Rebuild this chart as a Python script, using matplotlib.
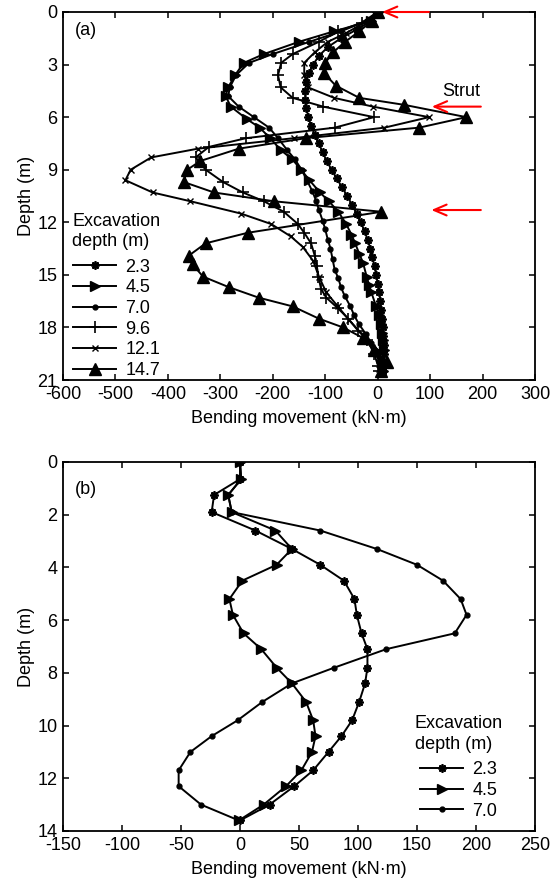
import matplotlib
matplotlib.use("Agg")
import matplotlib.pyplot as plt

plt.rcParams["font.family"] = ["Liberation Sans", "DejaVu Sans"]
plt.rcParams["font.size"] = 13
plt.rcParams["axes.unicode_minus"] = False

# ---- panel (a): excavation stages ----
labels_a = ["2.3", "4.5", "7.0", "9.6", "12.1", "14.7"]

d_23 = [0, 0.5, 1.0, 1.5, 2.0, 2.5, 3.0, 3.5, 4.0, 4.5, 5.0, 5.5, 6.0, 6.5, 7.0, 7.5, 8.0,
        8.5, 9.0, 9.5, 10.0, 10.5, 11.0, 11.5, 12.0, 12.5, 13.0, 13.5, 14.0, 14.5, 15.0,
        15.5, 16.0, 16.5, 17.0, 17.5, 18.0, 18.5, 19.0, 19.5, 20.0, 20.5]
m_23 = [0, -12, -40, -70, -95, -112, -123, -131, -136, -138, -138, -136, -132, -127, -120,
        -112, -105, -97, -88, -78, -68, -58, -49, -40, -32, -25, -19, -14, -10, -6, -3, 0,
        3, 5, 7, 9, 10, 11, 12, 12, 11, 10]

d_45 = [0, 0.5, 1.1, 1.7, 2.4, 2.9, 3.6, 4.3, 4.8, 5.4, 6.1, 6.6, 7.2, 7.9, 8.4, 9.0, 9.6,
        10.3, 10.8, 11.4, 12.1, 12.7, 13.2, 13.8, 14.3, 15.1, 15.6, 16.0, 16.8, 17.3, 17.8,
        18.3, 18.7, 19.3, 19.9, 20.5]
m_45 = [0, -12, -83, -150, -217, -255, -272, -285, -290, -280, -250, -225, -205, -184, -163,
        -146, -130, -110, -93, -75, -60, -50, -43, -35, -28, -21, -16, -12, -3, 2, 6, 9, 11,
        12, 13, 10]

d_70 = [0, 0.5, 1.1, 1.7, 2.4, 2.9, 3.6, 4.3, 4.8, 5.4, 6.0, 6.6, 7.2, 7.9, 8.4, 9.0, 9.6,
        10.2, 10.8, 11.3, 11.9, 12.4, 13.0, 13.5, 14.1, 14.7, 15.2, 15.7, 16.2, 16.8, 17.3,
        17.8, 18.4, 18.9, 19.5, 20.0, 20.5]
m_70 = [0, -20, -70, -130, -200, -245, -270, -282, -285, -265, -236, -207, -190, -172, -158,
        -145, -135, -125, -117, -112, -105, -100, -95, -90, -86, -82, -75, -70, -63, -52, -45,
        -36, -22, -12, -3, 3, 7]

d_96 = [0, 0.6, 1.1, 1.7, 2.4, 2.9, 3.6, 4.3, 4.9, 5.4, 6.0, 6.6, 7.2, 7.7, 8.3, 9.0, 9.7,
        10.3, 10.8, 11.4, 12.1, 12.6, 13.2, 13.9, 14.5, 15.1, 15.8, 16.3, 16.9, 17.5, 18.2,
        18.7, 19.5, 20.2, 20.5]
m_96 = [0, -30, -75, -112, -162, -184, -190, -185, -162, -104, -7, -82, -251, -322, -347,
        -328, -295, -257, -217, -179, -152, -140, -127, -120, -116, -113, -108, -98, -76, -56,
        -37, -20, -7, 1, 3]

d_121 = [0, 0.6, 1.2, 1.7, 2.3, 2.9, 3.6, 4.3, 4.9, 5.4, 6.0, 6.6, 7.2, 7.8, 8.3, 9.0, 9.6,
         10.3, 10.8, 11.5, 12.1, 12.8, 13.4, 14.2, 15.1, 16.0, 16.8, 17.6, 18.5, 19.3, 20.4]
m_121 = [0, -25, -60, -95, -120, -140, -140, -133, -83, -9, 98, 13, -160, -343, -432, -471,
         -481, -429, -357, -261, -203, -166, -143, -123, -112, -98, -76, -54, -26, 1, 3]

d_147 = [0, 0.5, 1.1, 1.7, 2.3, 2.9, 3.5, 4.2, 4.9, 5.3, 6.0, 6.6, 7.2, 7.8, 8.5, 9.0, 9.7,
         10.3, 10.8, 11.4, 12.6, 13.2, 13.9, 14.4, 15.1, 15.7, 16.3, 16.8, 17.5, 18.0, 18.6,
         19.3, 20.0, 20.5]
m_147 = [0, -10, -35, -62, -85, -100, -102, -80, -35, 51, 169, 79, -137, -265, -338, -363,
         -370, -312, -198, 7, -248, -328, -360, -353, -333, -284, -227, -162, -112, -66, -28,
         -7, 17, 7]

# ---- panel (b) ----
labels_b = ["2.3", "4.5", "7.0"]
d_b = [0, 0.65, 1.25, 1.9, 2.6, 3.3, 3.9, 4.5, 5.2, 5.8, 6.5, 7.1, 7.8, 8.4, 9.1, 9.8, 10.4,
       11.0, 11.7, 12.3, 13.0, 13.6]
mb_23 = [0, 0, -22, -24, 13, 44, 68, 88, 97, 99, 103, 108, 108, 106, 101, 95, 86, 75, 62, 46,
         25, 0]
mb_45 = [0, 1, -10, -7, 30, 44, 31, 2, -9, -6, 3, 18, 31, 44, 56, 62, 64, 61, 52, 39, 20, -1]
mb_70 = [0, 1, -10, -7, 68, 116, 150, 172, 187, 192, 182, 124, 80, 44, 19, -2, -24, -42, -52,
         -52, -33, -1]

star = (8, 2, 0)
styles = {
    "2.3": dict(marker=star, ms=6, mew=1.3),
    "4.5": dict(marker=">", ms=7),
    "7.0": dict(marker="o", ms=3.5),
    "9.6": dict(marker="+", ms=8, mew=1.2),
    "12.1": dict(marker="x", ms=4, mew=1.0),
    "14.7": dict(marker="^", ms=8),
}


def style_axes(ax):
    ax.tick_params(direction="in", top=True, right=True, length=4, width=1.1,
                   labelsize=13, pad=4)
    for s in ax.spines.values():
        s.set_linewidth(1.3)


def make_legend(ax, anchor):
    leg = ax.legend(title="Excavation\ndepth (m)", frameon=False, loc="upper left",
                    bbox_to_anchor=anchor, handlelength=2.4, labelspacing=0.2,
                    handletextpad=0.5, borderpad=0, borderaxespad=0, fontsize=13,
                    title_fontsize=13)
    leg.get_title().set_linespacing(1.3)
    leg._legend_box.sep = 6
    return leg


fig = plt.figure(figsize=(5.59, 8.85), dpi=100)
axa = fig.add_axes([63 / 559, 1 - 380 / 885, 472 / 559, 368 / 885])
axb = fig.add_axes([63 / 559, 1 - 831 / 885, 472 / 559, 369 / 885])

series_a = [(d_23, m_23), (d_45, m_45), (d_70, m_70), (d_96, m_96), (d_121, m_121),
            (d_147, m_147)]
for lab, (d, m) in zip(labels_a, series_a):
    axa.plot(m, d, color="black", lw=1.4, mfc="black", mec="black", label=lab,
             **styles[lab])

axa.set_xlim(-600, 300)
axa.set_ylim(21, 0)
axa.set_xticks(range(-600, 301, 100))
axa.set_yticks(range(0, 22, 3))
axa.set_xlabel("Bending movement (kN·m)", fontsize=13, labelpad=5)
axa.set_ylabel("Depth (m)", fontsize=13, labelpad=2)
style_axes(axa)
axa.text(0.025, 0.95, "(a)", transform=axa.transAxes, fontsize=13, va="center")
make_legend(axa, (0.02, 0.455))

arrow = dict(arrowstyle="->,head_length=0.7,head_width=0.3", color="red", lw=1.5)
for y, x0, x1 in [(0, 103, 3), (5.4, 202, 98), (11.3, 202, 97)]:
    axa.annotate("", xy=(x1, y), xytext=(x0, y), arrowprops=arrow, annotation_clip=False)
axa.text(160, 4.56, "Strut", fontsize=13, ha="center", va="center")

series_b = [mb_23, mb_45, mb_70]
for lab, m in zip(labels_b, series_b):
    axb.plot(m, d_b, color="black", lw=1.4, mfc="black", mec="black", label=lab,
             **styles[lab])

axb.set_xlim(-150, 250)
axb.set_ylim(14, 0)
axb.set_xticks(range(-150, 251, 50))
axb.set_yticks(range(0, 15, 2))
axb.set_xlabel("Bending movement (kN·m)", fontsize=13, labelpad=5)
axb.set_ylabel("Depth (m)", fontsize=13, labelpad=2)
style_axes(axb)
axb.text(0.025, 0.925, "(b)", transform=axb.transAxes, fontsize=13, va="center")
make_legend(axb, (0.745, 0.314))

fig.savefig("out.png", dpi=100)
plt.close(fig)
